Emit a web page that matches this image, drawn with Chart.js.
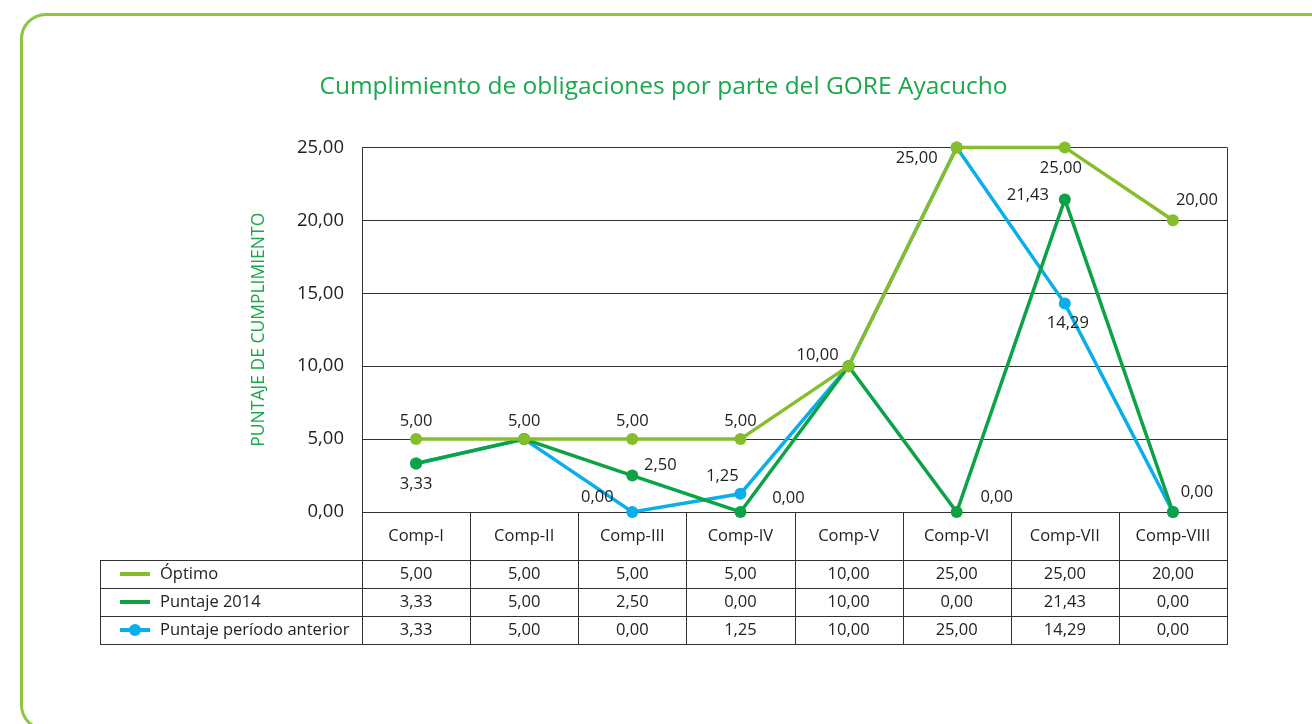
<!DOCTYPE html>
<html>
<head>
<meta charset="utf-8">
<script src="https://cdn.jsdelivr.net/npm/chart.js@4.4.0/dist/chart.umd.min.js"></script>
<style>
  html, body { margin: 0; padding: 0; background: #fff; overflow: hidden; }
  #frame { position: absolute; left: 20px; top: 13px; width: 1340px; height: 712px;
           border: 3px solid #8dc63f; border-radius: 26px; }
  #wrap { position: absolute; left: 100px; top: 0; width: 1212px; height: 724px; }
</style>
</head>
<body>
<div id="frame"></div>
<div id="wrap"><canvas id="c" width="1212" height="724"></canvas></div>
<script>
const categories = ['Comp-I', 'Comp-II', 'Comp-III', 'Comp-IV', 'Comp-V', 'Comp-VI', 'Comp-VII', 'Comp-VIII'];
const optimo = [5, 5, 5, 5, 10, 25, 25, 20];
const puntaje2014 = [3.33, 5, 2.5, 0, 10, 0, 21.43, 0];
const puntajeAnterior = [3.33, 5, 0, 1.25, 10, 25, 14.29, 0];
const yTicks = [0, 5, 10, 15, 20, 25];
const seriesNames = ['Óptimo', 'Puntaje 2014', 'Puntaje período anterior'];

const colors = ['#86bd2a', '#0ea247', '#0aaeea'];
const FONT = '"Open Sans", sans-serif';
const TEXT = '#222';
const LINE = '#333';

// where each value label sits, relative to its point (null = no label)
const labelOffsets = [
  [[0, -18], [0, -18], [0, -18], [0, -18], [-31, -11], [-40, 11], [-4, 21], [24, -20]],
  [[0, 21], null, [28, -10], [48, -14], null, [40, -15], [-37, -4], [24, -20]],
  [null, null, [-35, -15], [-18, -17], null, null, [3, 20], null]
];

const fmt = v => v.toFixed(2).replace('.', ',');

// value labels next to the points
const valueLabels = {
  id: 'valueLabels',
  afterDatasetsDraw(chart) {
    const ctx = chart.ctx;
    ctx.save();
    ctx.font = '16.5px ' + FONT;
    ctx.fillStyle = TEXT;
    ctx.textAlign = 'center';
    ctx.textBaseline = 'middle';
    chart.data.datasets.forEach((ds, di) => {
      const meta = chart.getDatasetMeta(di);
      meta.data.forEach((pt, i) => {
        const off = labelOffsets[di][i];
        if (!off) return;
        ctx.fillText(fmt(ds.data[i]), pt.x + off[0], pt.y + off[1]);
      });
    });
    ctx.restore();
  }
};

// data table under the plot, with the legend in its first column
const dataTable = {
  id: 'dataTable',
  afterDraw(chart) {
    const ctx = chart.ctx;
    const area = chart.chartArea;
    const x = chart.scales.x;
    const colW = (area.right - area.left) / categories.length;
    const headBottom = area.bottom + 48;
    const rowH = 28;
    const tableBottom = headBottom + rowH * 3;
    const tableLeft = 0;

    ctx.save();
    ctx.strokeStyle = LINE;
    ctx.lineWidth = 1;
    ctx.beginPath();
    // right border of plot + table
    ctx.moveTo(area.right + 0.5, area.top);
    ctx.lineTo(area.right + 0.5, tableBottom);
    // column edges
    for (let i = 0; i < categories.length; i++) {
      const xe = Math.round(area.left + i * colW) + 0.5;
      ctx.moveTo(xe, area.bottom);
      ctx.lineTo(xe, tableBottom);
    }
    ctx.moveTo(tableLeft + 0.5, headBottom);
    ctx.lineTo(tableLeft + 0.5, tableBottom);
    for (let r = 0; r <= 3; r++) {
      const y = headBottom + r * rowH + 0.5;
      ctx.moveTo(tableLeft, y);
      ctx.lineTo(area.right + 1, y);
    }
    ctx.stroke();

    ctx.font = '16.5px ' + FONT;
    ctx.fillStyle = TEXT;
    ctx.textAlign = 'center';
    ctx.textBaseline = 'middle';
    categories.forEach((c, i) => {
      ctx.fillText(c, x.getPixelForValue(i), (area.bottom + headBottom) / 2);
    });

    const series = [optimo, puntaje2014, puntajeAnterior];
    series.forEach((vals, r) => {
      const yc = headBottom + r * rowH + rowH / 2;
      ctx.textAlign = 'center';
      ctx.fillStyle = TEXT;
      vals.forEach((v, i) => ctx.fillText(fmt(v), x.getPixelForValue(i), yc));

      ctx.strokeStyle = colors[r];
      ctx.lineWidth = 4;
      ctx.beginPath();
      ctx.moveTo(20, yc);
      ctx.lineTo(50, yc);
      ctx.stroke();
      if (r === 2) {
        ctx.fillStyle = colors[r];
        ctx.beginPath();
        ctx.arc(35, yc, 6, 0, Math.PI * 2);
        ctx.fill();
      }
      ctx.fillStyle = TEXT;
      ctx.textAlign = 'left';
      ctx.fillText(seriesNames[r], 60, yc);
    });
    ctx.restore();
  }
};

const datasetFor = (name, data, color) => ({
  label: name,
  data: data,
  borderColor: color,
  backgroundColor: color,
  borderWidth: 3.5,
  pointRadius: 6,
  pointBorderWidth: 0,
  pointBackgroundColor: color,
  tension: 0,
  clip: false
});

new Chart(document.getElementById('c'), {
  type: 'line',
  data: {
    labels: categories,
    datasets: [
      datasetFor(seriesNames[0], optimo, colors[0]),
      datasetFor(seriesNames[1], puntaje2014, colors[1]),
      datasetFor(seriesNames[2], puntajeAnterior, colors[2])
    ]
  },
  options: {
    responsive: false,
    animation: false,
    layout: { padding: { left: 0, right: 85, top: 0, bottom: 212 } },
    plugins: {
      legend: { display: false },
      tooltip: { enabled: false },
      title: {
        display: true,
        text: 'Cumplimiento de obligaciones por parte del GORE Ayacucho',
        color: '#1aa84b',
        font: { family: FONT, size: 24.5, weight: 'normal' },
        padding: { top: 72, bottom: 46 }
      }
    },
    scales: {
      x: { type: 'category', offset: true, display: false },
      y: {
        min: 0,
        max: 25,
        afterBuildTicks: s => { s.ticks = yTicks.map(v => ({ value: v })); },
        afterFit: s => { s.width = 262; },
        ticks: {
          padding: 18,
          color: TEXT,
          font: { family: FONT, size: 18.5 },
          callback: v => fmt(v)
        },
        grid: { color: LINE, lineWidth: 1, drawTicks: false },
        border: { display: true, color: LINE, width: 1 },
        title: {
          display: true,
          text: 'PUNTAJE DE CUMPLIMIENTO',
          color: '#1aa84b',
          font: { family: FONT, size: 17.5 },
          padding: { top: 149, bottom: 0 }
        }
      }
    }
  },
  plugins: [valueLabels, dataTable]
});
</script>
</body>
</html>
